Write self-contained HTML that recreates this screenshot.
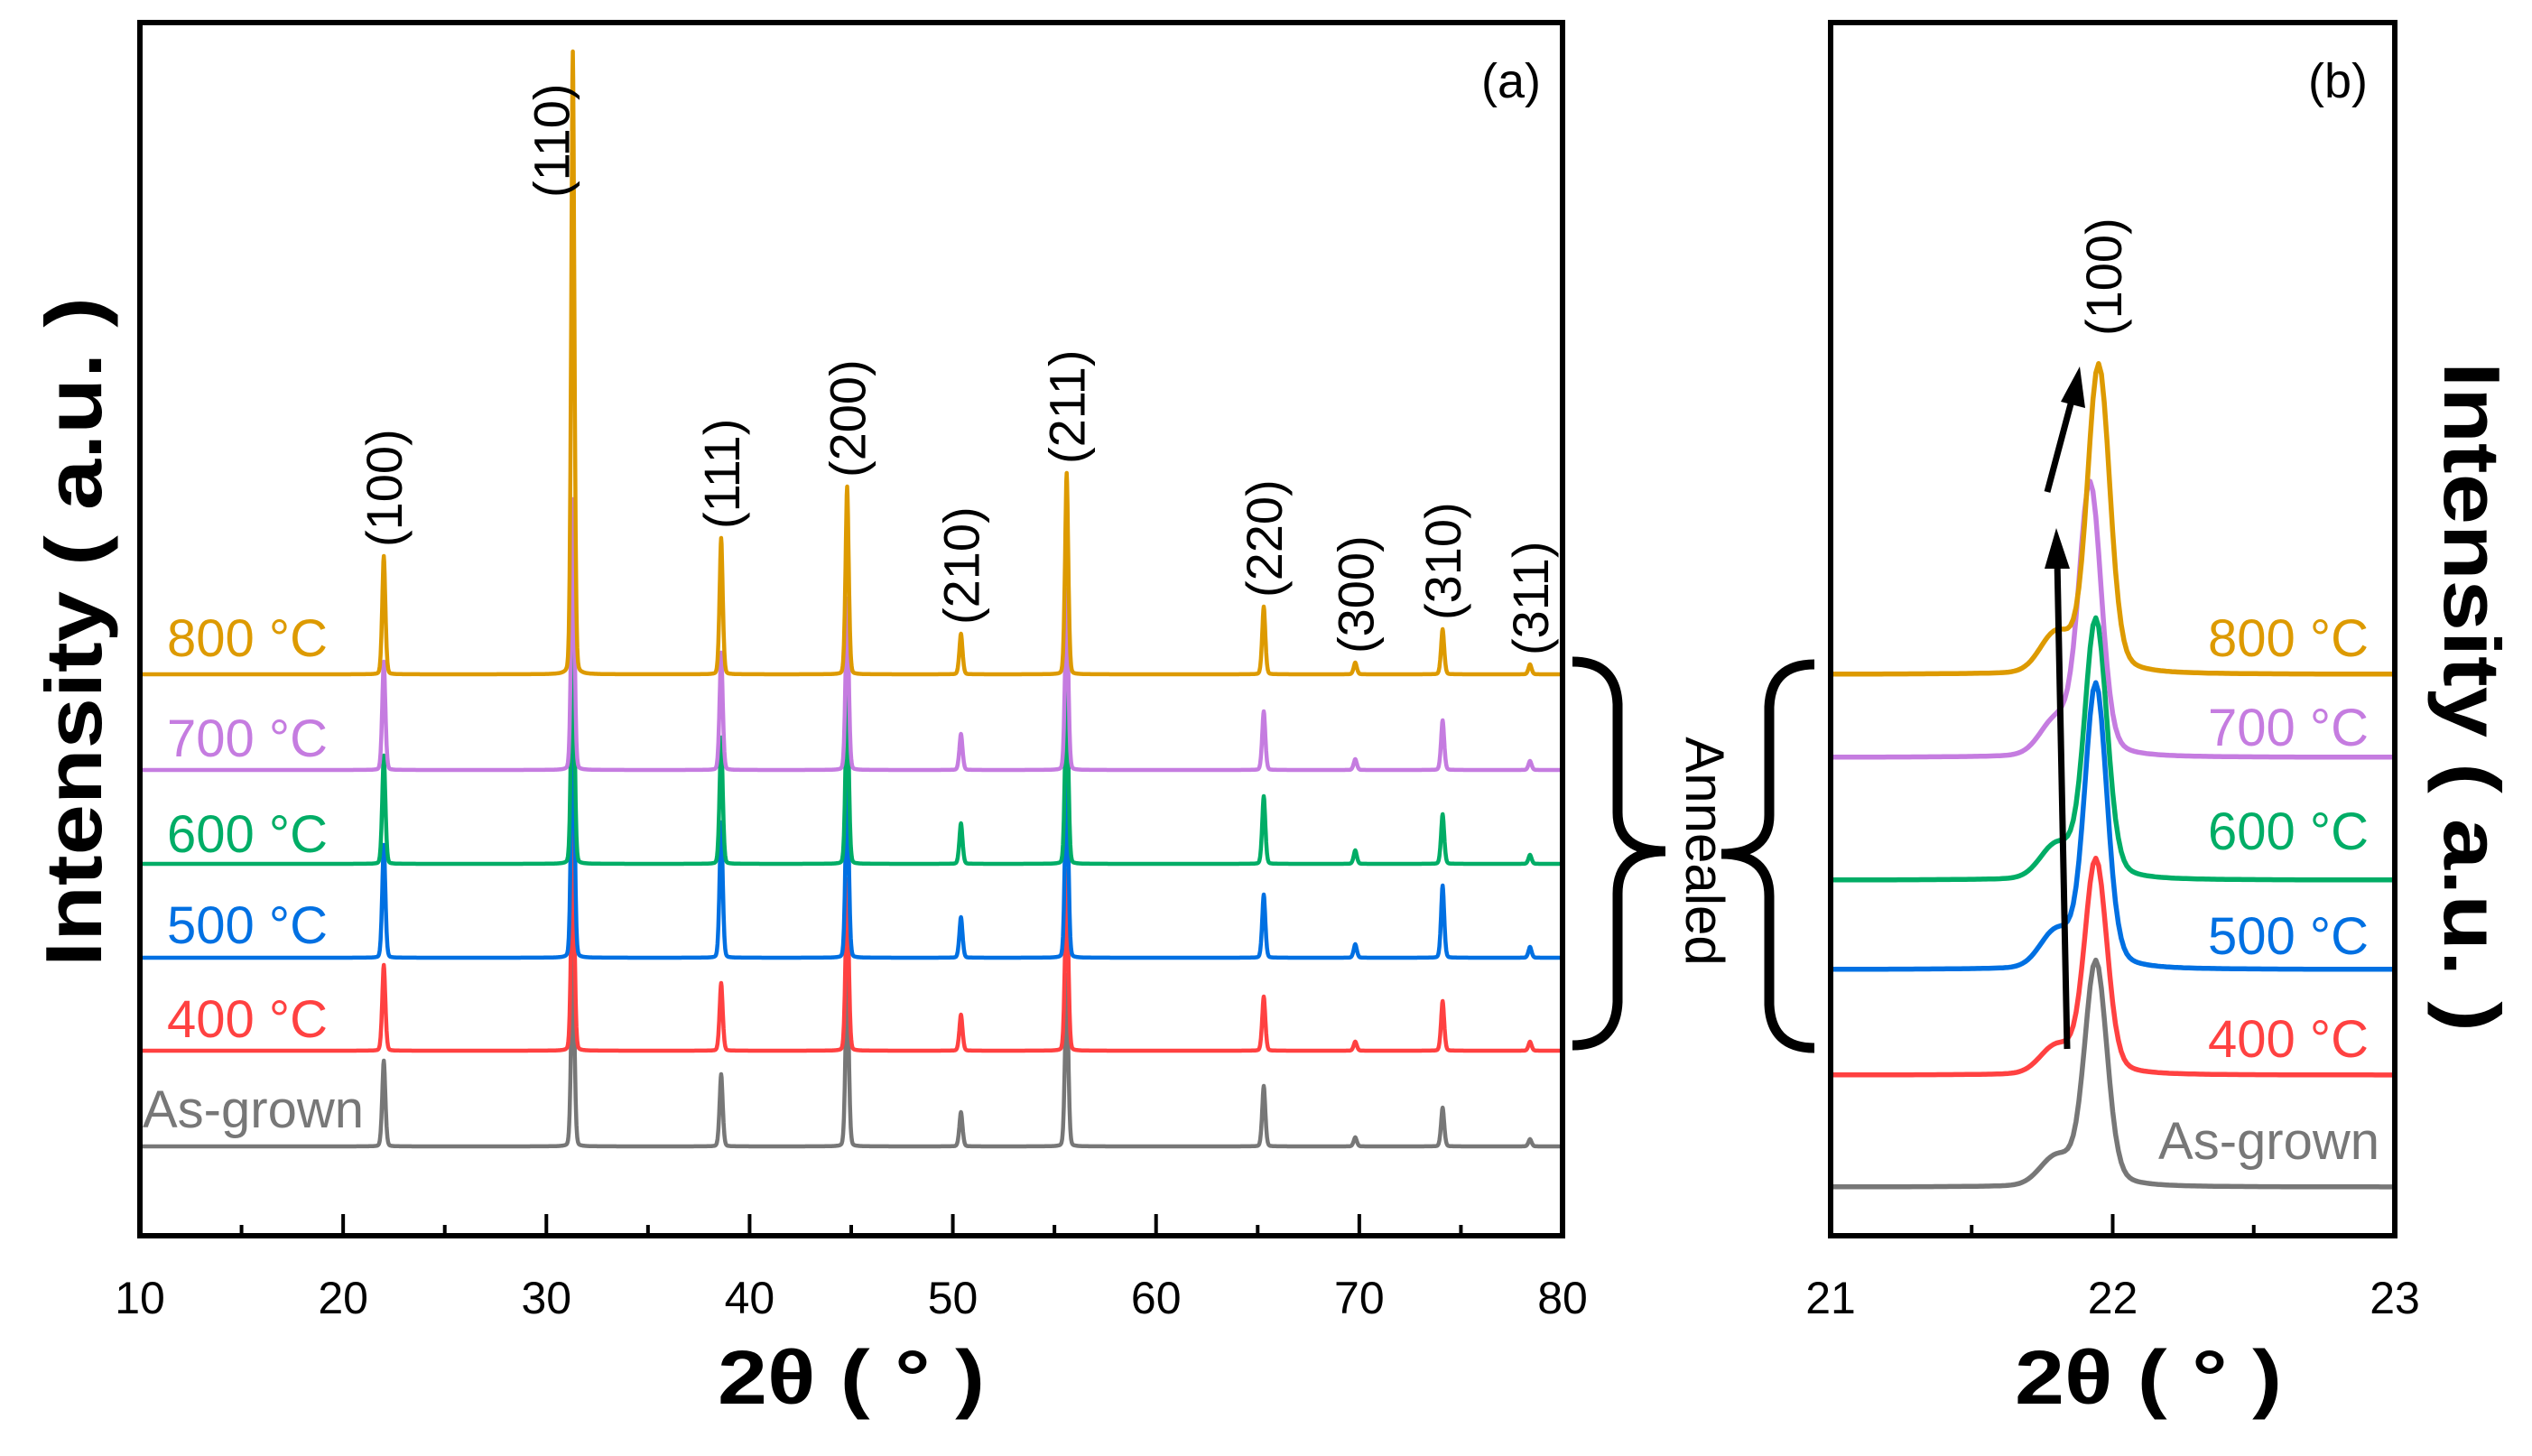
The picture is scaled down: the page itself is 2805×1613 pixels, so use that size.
<!DOCTYPE html>
<html><head><meta charset="utf-8"><style>
html,body{margin:0;padding:0;background:#fff;}
svg{display:block;font-family:"Liberation Sans",sans-serif;}
</style></head><body>
<svg id="chart" width="2805" height="1613" viewBox="0 0 2805 1613" xmlns="http://www.w3.org/2000/svg">
<g id="panelA"></g>
<g id="panelB"></g>
<g id="deco"></g>
</svg>
<script>
// ---- Data: panel (a) ----
const seriesNames = ["As-grown","400 °C","500 °C","600 °C","700 °C","800 °C"];
const seriesColors = ["#777777","#FF4141","#0070E2","#00AD66","#C57CE0","#DD9A00"];
const offsetsA = [0, 106, 209, 313, 417, 523];
const peakPos = [22.0, 31.3, 38.6, 44.8, 50.4, 55.6, 65.3, 69.8, 74.1, 78.4];
const peakHkl = ["(100)","(110)","(111)","(200)","(210)","(211)","(220)","(300)","(310)","(311)"];
const hAsGrown = [95, 230, 80, 200, 38, 190, 67, 10, 43, 8];
const h400 = [95, 250, 75, 190, 40, 200, 60, 10, 55, 10];
const h500 = [125, 330, 150, 210, 45, 230, 70, 15, 80, 12];
const h600 = [120, 300, 140, 200, 45, 210, 75, 15, 55, 10];
const h700 = [120, 300, 130, 190, 40, 200, 65, 12, 55, 10];
const h800 = [131, 690, 151, 208, 45, 223, 75, 13, 50, 11];
const xTicksA = [10,20,30,40,50,60,70,80];
// ---- Data: panel (b) ----
const offsetsB = [0, 124, 241, 340, 476, 568];
const centerB = [21.94, 21.94, 21.94, 21.94, 21.92, 21.95];
const heightB = [250, 239, 316, 289, 302, 343];
const xTicksB = [21,22,23];

const NS="http://www.w3.org/2000/svg";
function mk(tag, attrs, parent, text){
  const e=document.createElementNS(NS,tag);
  for(const k in attrs) e.setAttribute(k,attrs[k]);
  if(text!==undefined) e.textContent=text;
  parent.appendChild(e); return e;
}
const A=document.getElementById('panelA'), B=document.getElementById('panelB'), D=document.getElementById('deco');

const aL=155,aR=1731,aT=25,aB=1369, baseA=1270;
const xA=v=>aL+(v-10)*(aR-aL)/70;
const yA=(v,s)=>baseA-offsetsA[s]-v;
const bL=2028,bR=2653,bT=25,bB=1369, baseB=1315;
const xB=v=>bL+(v-21)*(bR-bL)/2;
const yB=(v,s)=>baseB-offsetsB[s]-v;

const heights=[hAsGrown,h400,h500,h600,h700,h800];
for(let s=0;s<6;s++){
  let d="";
  for(let x=10;x<=80.0001;x+=0.02){
    let I=0;
    for(let p=0;p<peakPos.length;p++){
      const g=(x-peakPos[p])/0.12;
      I+=heights[s][p]*(0.75*Math.exp(-g*g)+0.25/(1+g*g*4));
    }
    d+=(d?"L":"M")+xA(x).toFixed(1)+","+yA(I,s).toFixed(1);
  }
  const p=mk('path',{d:d,fill:'none',stroke:seriesColors[s],'stroke-width':4.5,'stroke-linejoin':'round'},A);
  
  
}
const fa=mk('rect',{x:aL,y:aT,width:aR-aL,height:aB-aT,fill:'none',stroke:'#000','stroke-width':6},A);


for(let v=10;v<=80;v+=5){
  const major=v%10===0;
  mk('line',{x1:xA(v),x2:xA(v),y1:aB,y2:aB-(major?24:12),stroke:'#000','stroke-width':4},A);
}
xTicksA.forEach(v=>{
  const t=mk('text',{x:xA(v),y:1455,'font-size':50,'text-anchor':'middle'},A,String(v));
  
  
});
const labYA=[1228,1128,1024,923,817,706];
for(let s=0;s<6;s++){
  const t=mk('text',{x:s===0?158:185,y:labYA[s]+21,'font-size':s===0?58:58,fill:seriesColors[s]},A,seriesNames[s]);
  
  
}
for(let p=0;p<peakPos.length;p++){
  let bottom=yA(h800[p],5)-10;
  let bx=xA(peakPos[p])+20;
  if(p===1){bottom=219; bx=xA(peakPos[p])-4;}
  const t=mk('text',{x:0,y:0,'font-size':56,transform:`translate(${bx},${bottom}) rotate(-90)`},A,peakHkl[p]);
  
  
}
mk('text',{x:1674,y:108,'font-size':54,'text-anchor':'middle'},A,"(a)");
const ya=mk('text',{x:0,y:0,'font-size':88,'font-weight':'bold','text-anchor':'middle',transform:'translate(112,700) rotate(-90)',textLength:742,lengthAdjust:'spacingAndGlyphs'},A,"Intensity ( a.u. )");


const xa=mk('text',{x:943,y:1555,'font-size':84,'font-weight':'bold','text-anchor':'middle',textLength:296,lengthAdjust:'spacingAndGlyphs'},A,"2θ ( ° )");



for(let s=0;s<6;s++){
  let d="";
  for(let x=21;x<=23.0001;x+=0.01){
    const g=(x-centerB[s])/0.055;
    const sh=(x-21.8)/0.08;
    const I=heightB[s]*(0.8*Math.exp(-g*g)+0.2/(1+g*g))+heightB[s]*0.12*Math.exp(-sh*sh);
    d+=(d?"L":"M")+xB(x).toFixed(1)+","+yB(I,s).toFixed(1);
  }
  const p=mk('path',{d:d,fill:'none',stroke:seriesColors[s],'stroke-width':5.5,'stroke-linejoin':'round'},B);
  
  
}
const fb=mk('rect',{x:bL,y:bT,width:bR-bL,height:bB-bT,fill:'none',stroke:'#000','stroke-width':6},B);


for(let v=21;v<=23;v+=0.5){
  const major=Math.abs(v-Math.round(v))<1e-6;
  mk('line',{x1:xB(v),x2:xB(v),y1:bB,y2:bB-(major?24:12),stroke:'#000','stroke-width':4},B);
}
xTicksB.forEach(v=>{
  const t=mk('text',{x:xB(v),y:1455,'font-size':50,'text-anchor':'middle'},B,String(v));
  
  
});
const labYB=[1263,1150,1036,920,805,706];
for(let s=0;s<6;s++){
  const t=mk('text',{x:s===0?2636:2624,y:labYB[s]+21,'font-size':58,fill:seriesColors[s],'text-anchor':'end'},B,seriesNames[s]);
  
  
}
mk('text',{x:2590,y:108,'font-size':54,'text-anchor':'middle'},B,"(b)");
mk('text',{x:0,y:0,'font-size':56,transform:'translate(2350,372) rotate(-90)'},B,"(100)");
const yb=mk('text',{x:0,y:0,'font-size':88,'font-weight':'bold','text-anchor':'middle',transform:'translate(2708,772) rotate(90)',textLength:742,lengthAdjust:'spacingAndGlyphs'},B,"Intensity ( a.u. )");


const xb=mk('text',{x:2380,y:1555,'font-size':84,'font-weight':'bold','text-anchor':'middle',textLength:296,lengthAdjust:'spacingAndGlyphs'},B,"2θ ( ° )");


mk('line',{x1:2290,y1:1162,x2:2279,y2:620,stroke:'#000','stroke-width':7},D);
mk('polygon',{points:'2278,585 2265,630 2293,630',fill:'#000'},D);
mk('line',{x1:2268,y1:545,x2:2296,y2:440,stroke:'#000','stroke-width':7},D);
mk('polygon',{points:'2304,406 2283,445 2310,452',fill:'#000'},D);
mk('path',{d:'M1742,733 Q1790,733 1792,780 L1792,900 Q1792,943 1845,943 Q1792,943 1792,990 L1792,1110 Q1790,1158 1742,1158',fill:'none',stroke:'#000','stroke-width':11},D);
mk('path',{d:'M2010,736 Q1962,736 1960,783 L1960,903 Q1960,946 1907,946 Q1960,946 1960,993 L1960,1113 Q1962,1161 2010,1161',fill:'none',stroke:'#000','stroke-width':11},D);
const an=mk('text',{x:0,y:0,'font-size':60,'text-anchor':'middle',transform:'translate(1868,943) rotate(90)'},D,"Annealed");


</script>
</body></html>
